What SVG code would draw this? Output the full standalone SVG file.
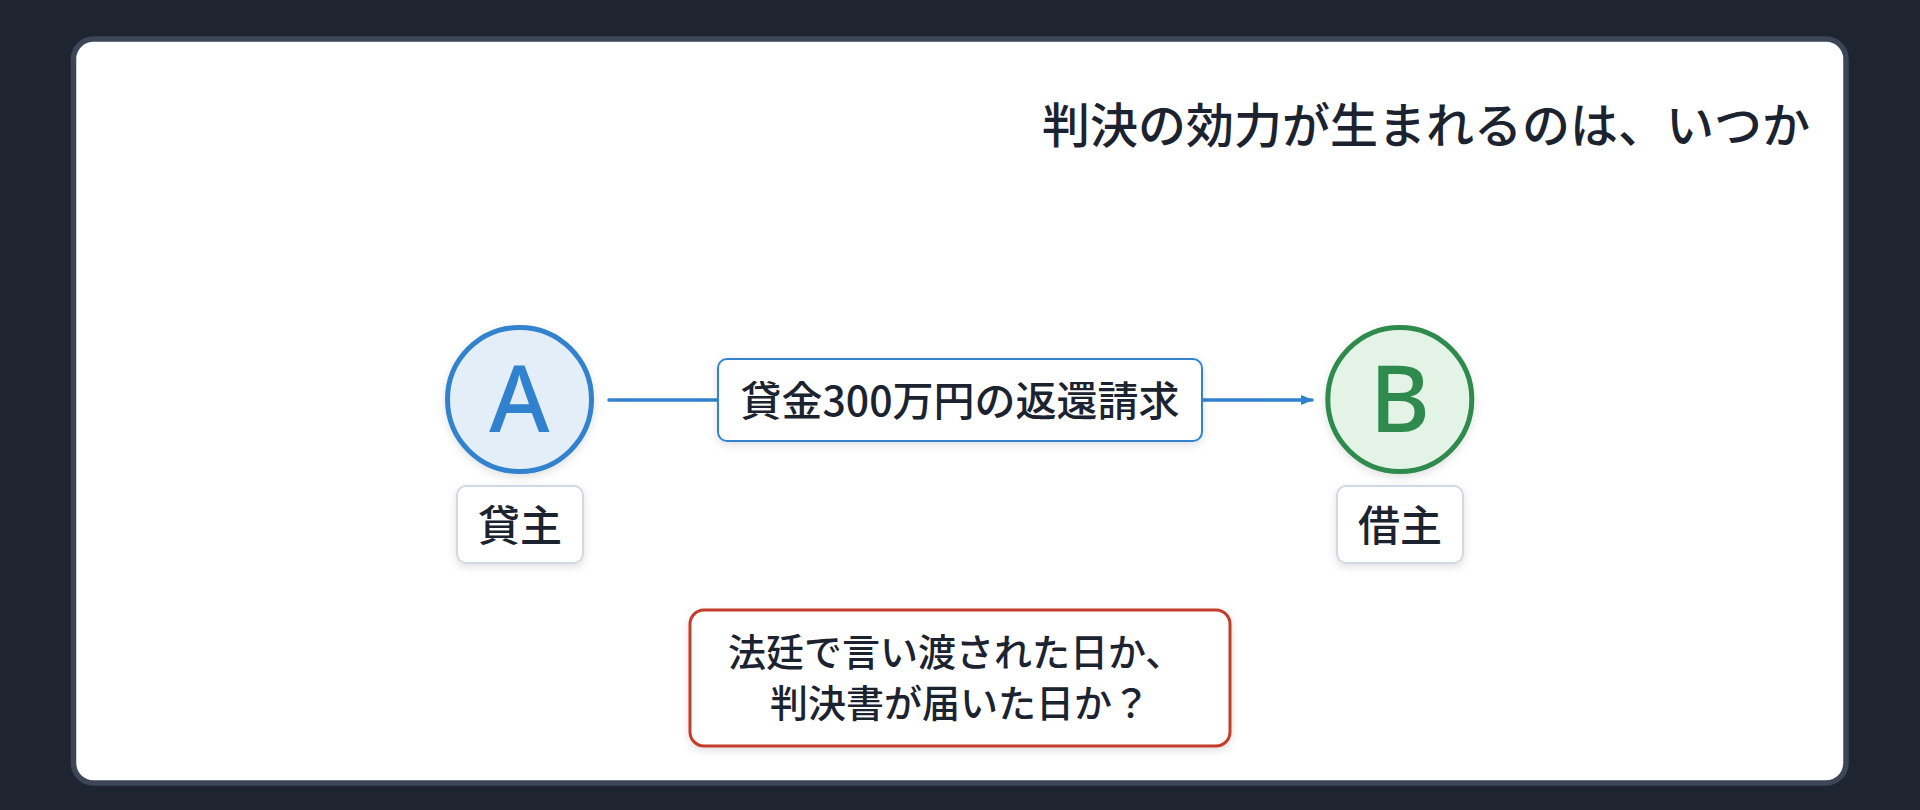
<svg xmlns="http://www.w3.org/2000/svg" width="1920" height="810" viewBox="0 0 1920 810">
  <defs>
    <style>
      .jp { font-family: "Noto Sans CJK JP", "Noto Sans", sans-serif; fill: #1c2330; }
      .title { font-size: 48px; font-weight: 500; }
      .edge { font-size: 41px; font-weight: 500; }
      .role { font-size: 42px; font-weight: 500; }
      .q { font-size: 38px; font-weight: 500; }
      .letter { font-family: "Noto Sans", "DejaVu Sans", sans-serif; font-size: 92px; font-weight: 500; }
      .rolebox { fill: #ffffff; stroke: #cfd8e3; stroke-width: 2; }
    </style>
    <filter id="sh" x="-20%" y="-20%" width="140%" height="150%">
      <feDropShadow dx="0" dy="3" stdDeviation="4" flood-color="#000000" flood-opacity="0.12"/>
    </filter>
    <marker id="arr" viewBox="0 0 12 10" refX="11" refY="5" markerWidth="12" markerHeight="10" markerUnits="userSpaceOnUse" orient="auto">
      <path d="M0,0 L12,5 L0,10 Z" fill="#3182ce"/>
    </marker>
  </defs>

  <rect x="0" y="0" width="1920" height="810" fill="#1e2530"/>
  <rect id="card" x="73.5" y="39" width="1772.5" height="744" rx="20" ry="20" fill="#ffffff" stroke="#3c4657" stroke-width="5.5"/>

  <g id="title">
    <text class="jp title" x="1810" y="143" text-anchor="end">判決の効力が生まれるのは、いつか</text>
  </g>

  <g id="connectors">
    <line x1="609" y1="400" x2="1312" y2="400" stroke="#3182ce" stroke-width="3.5" stroke-linecap="round" marker-end="url(#arr)"/>
  </g>

  <g id="edge-label">
    <rect x="718" y="359" width="484" height="82" rx="9" ry="9" fill="#ffffff" stroke="#3182ce" stroke-width="2" filter="url(#sh)"/>
    <text class="jp edge" x="960" y="416" text-anchor="middle">貸金300万円の返還請求</text>
  </g>

  <g id="node-a">
    <circle cx="519.5" cy="399.5" r="72" fill="#e4eef9" stroke="#3182ce" stroke-width="5" filter="url(#sh)"/>
    <text class="letter" x="519.5" y="432" text-anchor="middle" fill="#3182ce">A</text>
  </g>
  <g id="label-a">
    <rect class="rolebox" x="457" y="486" width="126" height="77" rx="9" ry="9" filter="url(#sh)"/>
    <text class="jp role" x="520" y="541" text-anchor="middle">貸主</text>
  </g>

  <g id="node-b">
    <circle cx="1399.8" cy="399.5" r="72" fill="#e3f4e7" stroke="#2f8a4e" stroke-width="5" filter="url(#sh)"/>
    <text class="letter" x="1399.8" y="432" text-anchor="middle" fill="#2f8a4e">B</text>
  </g>
  <g id="label-b">
    <rect class="rolebox" x="1337" y="486" width="126" height="77" rx="9" ry="9" filter="url(#sh)"/>
    <text class="jp role" x="1400" y="541" text-anchor="middle">借主</text>
  </g>

  <g id="question">
    <rect x="690" y="610" width="540" height="136" rx="14" ry="14" fill="#ffffff" stroke="#c53d2b" stroke-width="3" filter="url(#sh)"/>
    <text class="jp q" text-anchor="middle">
      <tspan x="960" y="666">法廷で言い渡された日か、</tspan>
      <tspan x="960" y="717">判決書が届いた日か？</tspan>
    </text>
  </g>
</svg>
